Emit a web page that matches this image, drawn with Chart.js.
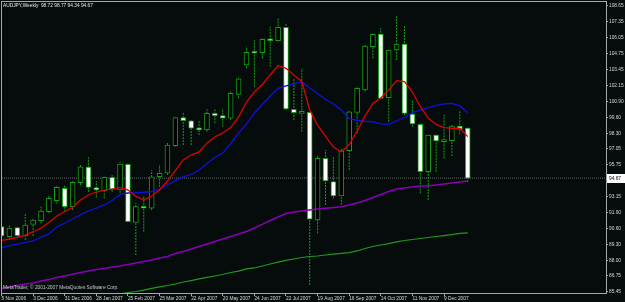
<!DOCTYPE html>
<html>
<head>
<meta charset="utf-8">
<script src="https://cdn.jsdelivr.net/npm/chart.js@4.4.0/dist/chart.umd.min.js"></script>
<style>
  html, body { margin: 0; padding: 0; background: #060c0c; }
  #wrap { width: 625px; height: 302px; }
</style>
</head>
<body>
<div id="wrap"><canvas id="chart" width="625" height="302"></canvas></div>
<script>
// weekly AUDJPY bars, oldest first
const opens = [90.73, 89.92, 90.65, 89.97, 90.92, 91.21, 91.94, 92.83, 93.84, 92.35,
  94.30, 95.57, 93.89, 93.65, 94.73, 93.70, 95.79, 91.08, 92.35, 92.22,
  94.78, 95.06, 97.30, 99.57, 99.32, 98.75, 98.57, 99.92, 99.73, 99.52,
  101.46, 103.84, 104.92, 104.84, 105.93, 105.81, 106.90, 100.25, 99.92, 100.00,
  91.27, 96.27, 94.38, 93.22, 96.89, 99.99, 101.81, 105.32, 106.35, 101.19,
  105.06, 105.54, 99.87, 99.03, 95.19, 98.16, 97.62, 97.70, 98.89, 98.72];
const highs = [90.95, 90.86, 90.73, 91.76, 91.43, 92.35, 93.22, 94.11, 94.11, 94.51,
  95.79, 96.35, 94.43, 94.78, 94.92, 96.00, 95.89, 92.65, 93.16, 95.32,
  95.73, 97.54, 99.65, 99.97, 99.38, 99.38, 100.25, 100.33, 100.33, 101.68,
  102.89, 105.32, 105.87, 106.01, 106.95, 107.63, 107.22, 102.76, 103.57, 100.11,
  96.54, 96.95, 96.40, 97.08, 100.19, 102.02, 105.46, 106.41, 106.82, 105.11,
  107.81, 107.00, 101.00, 99.06, 98.20, 98.20, 99.79, 98.97, 100.11, 98.77];
const lows = [89.81, 89.70, 89.92, 89.65, 89.97, 91.00, 91.84, 92.62, 91.94, 92.08,
  94.11, 93.56, 93.11, 93.03, 93.56, 93.48, 91.08, 88.43, 90.32, 92.08,
  93.97, 94.92, 97.21, 97.35, 97.35, 98.16, 98.43, 99.11, 98.84, 99.38,
  101.14, 103.57, 102.08, 104.38, 103.70, 105.75, 100.19, 99.38, 98.43, 86.00,
  90.19, 92.49, 93.03, 92.49, 95.32, 98.30, 101.68, 104.38, 101.10, 99.24,
  104.25, 99.79, 98.84, 93.43, 92.89, 95.19, 96.27, 96.46, 98.22, 94.34];
const closes = [89.97, 90.62, 90.00, 90.86, 91.27, 92.00, 93.03, 93.92, 92.35, 94.33,
  95.59, 93.92, 93.70, 94.73, 93.78, 95.81, 91.13, 92.35, 92.22, 94.78,
  95.06, 97.35, 99.57, 99.32, 98.71, 98.57, 99.92, 99.73, 99.52, 101.55,
  102.71, 104.87, 104.79, 105.93, 105.81, 106.90, 100.27, 99.97, 100.09, 91.33,
  96.27, 94.43, 93.22, 96.87, 100.05, 101.95, 105.38, 106.33, 101.14, 105.06,
  105.54, 99.92, 99.06, 95.19, 98.16, 97.68, 97.76, 98.89, 98.63, 94.67];

// moving averages
const redMA = [89.61, 89.73, 89.87, 90.05, 90.32, 90.62, 91.07, 91.59, 91.96, 92.28,
  92.89, 93.30, 93.54, 93.70, 93.78, 93.91, 93.70, 93.18, 92.89, 93.22,
  93.70, 94.43, 95.28, 96.14, 96.54, 96.79, 97.52, 98.00, 98.33, 98.77,
  99.62, 100.84, 101.65, 102.26, 103.03, 103.80, 103.57, 103.03, 102.49, 100.19,
  98.97, 98.08, 97.19, 96.79, 97.39, 98.49, 99.70, 100.72, 101.16, 101.81,
  102.57, 102.50, 101.65, 100.46, 99.54, 99.02, 98.77, 98.71, 98.71, 98.03];
const blueMA = [89.00, 89.20, 89.32, 89.45, 89.57, 89.89, 90.14, 90.70, 91.03, 91.35,
  91.68, 92.00, 92.24, 92.49, 92.85, 93.34, 93.46, 93.48, 93.52, 93.58,
  93.78, 94.11, 94.47, 94.76, 94.96, 95.33, 95.85, 96.34, 96.70, 97.47,
  98.33, 99.06, 99.95, 100.64, 101.33, 101.94, 102.14, 102.30, 102.49, 101.98,
  101.53, 101.04, 100.68, 100.19, 99.50, 99.34, 99.28, 99.24, 99.06, 99.02,
  99.30, 99.58, 99.99, 100.19, 100.39, 100.56, 100.68, 100.72, 100.52, 99.97];
const purpleMA = [85.72, 85.84, 85.96, 86.08, 86.16, 86.32, 86.45, 86.61, 86.73, 86.87,
  87.01, 87.13, 87.26, 87.34, 87.46, 87.54, 87.66, 87.78, 87.90, 88.03,
  88.19, 88.31, 88.55, 88.72, 88.92, 89.12, 89.32, 89.53, 89.73, 89.93,
  90.14, 90.34, 90.62, 90.91, 91.23, 91.51, 91.80, 91.92, 92.00, 92.08,
  92.16, 92.22, 92.28, 92.35, 92.49, 92.65, 92.85, 93.10, 93.34, 93.58,
  93.78, 93.86, 93.95, 94.03, 94.05, 94.11, 94.19, 94.27, 94.35, 94.43];
const greenMA = [null, null, null, null, null, null, null, null, null, null,
  null, null, null, null, null, 85.27, 85.39, 85.47, 85.59, 85.73,
  85.84, 85.96, 86.08, 86.24, 86.36, 86.49, 86.61, 86.73, 86.85, 87.01,
  87.13, 87.30, 87.38, 87.54, 87.70, 87.86, 87.99, 88.11, 88.23, 88.31,
  88.35, 88.43, 88.51, 88.57, 88.62, 88.76, 88.96, 89.12, 89.24, 89.36,
  89.49, 89.61, 89.69, 89.77, 89.85, 89.93, 90.01, 90.09, 90.18, 90.22];

// one date label every 4 bars
const xTickLabels = ['5 Nov 2006', '3 Dec 2006', '31 Dec 2006', '28 Jan 2007', '25 Feb 2007',
  '25 Mar 2007', '22 Apr 2007', '20 May 2007', '24 Jun 2007', '22 Jul 2007',
  '19 Aug 2007', '16 Sep 2007', '14 Oct 2007', '11 Nov 2007', '9 Dec 2007'];
const yTickLabels = ['108.65', '107.35', '106.05', '104.75', '103.45', '102.15', '100.90',
  '99.60', '98.30', '97.05', '95.75', '94.45', '93.15', '91.90', '90.60', '89.30',
  '88.00', '86.75', '85.45'];

const symbolTitle = 'AUDJPY,Weekly';
const copyright = 'MetaTrader, \u00a9 2001-2007 MetaQuotes Software Corp.';

const xMin = 0.06, xMax = 76.5;
const yMin = 85.35, yMax = 108.95;
const lastIdx = closes.length - 1;
const lastClose = closes[lastIdx];

const gridGray = '#a8a8a8';
const labelColor = '#d8d8d8';
const candleGreen = '#14a014';
const smallFont = { family: 'Liberation Sans', size: 4.8 };

// build library data from the arrays
const toPoints = arr => arr.map((v, i) => ({ x: i, y: v }));
const wickPoints = [];
lows.forEach((lo, i) => {
  wickPoints.push({ x: i, y: lo }, { x: i, y: highs[i] }, { x: i, y: null });
});
const bodyPoints = opens.map((o, i) => ({ x: i, y: [o, closes[i]] }));
const bodyFill = opens.map((o, i) => closes[i] < o ? '#ffffff' : '#000000');

const mtDecor = {
  id: 'mtDecor',
  beforeDraw(chart) {
    const { ctx, width, height } = chart;
    ctx.save();
    ctx.fillStyle = '#060c0c';
    ctx.fillRect(0, 0, width, height);
    ctx.restore();
  },
  afterDraw(chart) {
    const { ctx, chartArea: a, scales } = chart;
    ctx.save();
    ctx.strokeStyle = gridGray;
    ctx.lineWidth = 1;
    ctx.strokeRect(a.left - 0.5, a.top - 0.5, a.right - a.left + 1, a.bottom - a.top + 1);

    ctx.font = '4.8px "Liberation Sans"';
    ctx.textBaseline = 'middle';
    ctx.textAlign = 'left';
    ctx.fillStyle = '#e8e8e8';
    const bar = [opens[lastIdx], highs[lastIdx], lows[lastIdx], closes[lastIdx]].map(v => v.toFixed(2)).join(' ');
    ctx.fillText(symbolTitle + '  ' + bar, a.left + 1, a.top + 4);
    ctx.fillStyle = '#c8c8c8';
    ctx.fillText(copyright, a.left + 1, a.bottom - 5);

    // current price box on the right scale
    const py = Math.round(scales.y.getPixelForValue(lastClose));
    ctx.fillStyle = '#ffffff';
    ctx.fillRect(a.right + 1, py - 4, 18, 9);
    ctx.fillStyle = '#000000';
    ctx.fillText(lastClose.toFixed(2), a.right + 3, py + 0.5);
    ctx.restore();
  }
};

new Chart(document.getElementById('chart'), {
  data: {
    datasets: [
      {
        type: 'line',
        data: [{ x: xMin, y: lastClose }, { x: xMax, y: lastClose }],
        borderColor: '#6a6a6a',
        borderWidth: 1,
        borderDash: [1, 1],
        pointRadius: 0,
        clip: 0,
        order: 6
      },
      {
        type: 'line',
        data: wickPoints,
        borderColor: candleGreen,
        borderWidth: 1,
        borderDash: [2, 1],
        pointRadius: 0,
        spanGaps: false,
        clip: 0,
        order: 5
      },
      {
        type: 'bar',
        data: bodyPoints,
        backgroundColor: bodyFill,
        borderColor: candleGreen,
        borderWidth: 1,
        borderSkipped: false,
        barThickness: 5,
        minBarLength: 2,
        clip: 0,
        order: 4
      },
      {
        type: 'line',
        data: toPoints(greenMA),
        borderColor: '#1f9a1f',
        borderWidth: 1.2,
        pointRadius: 0,
        clip: 0,
        order: 3
      },
      {
        type: 'line',
        data: toPoints(purpleMA),
        borderColor: '#8a00b8',
        borderWidth: 1.5,
        pointRadius: 0,
        clip: 0,
        order: 2
      },
      {
        type: 'line',
        data: toPoints(blueMA),
        borderColor: '#1010e0',
        borderWidth: 1.3,
        pointRadius: 0,
        clip: 0,
        order: 1
      },
      {
        type: 'line',
        data: toPoints(redMA),
        borderColor: '#e00000',
        borderWidth: 1.3,
        pointRadius: 0,
        clip: 0,
        order: 0
      }
    ]
  },
  options: {
    responsive: false,
    devicePixelRatio: 1,
    animation: false,
    layout: { padding: { left: 2, top: 2, right: 0, bottom: 0 } },
    plugins: { legend: { display: false }, tooltip: { enabled: false } },
    scales: {
      x: {
        type: 'linear',
        offset: false,
        min: xMin,
        max: xMax,
        border: { display: false },
        grid: { offset: false, drawOnChartArea: false, color: gridGray, tickLength: 3 },
        ticks: {
          autoSkip: false,
          maxRotation: 0,
          align: 'start',
          padding: 0,
          color: labelColor,
          font: smallFont,
          callback: v => xTickLabels[Math.round(v / 4)]
        },
        afterBuildTicks: s => { s.ticks = xTickLabels.map((_, k) => ({ value: k * 4 })); },
        afterFit: s => { s.height = 9; s.paddingLeft = 0; s.paddingRight = 0; }
      },
      y: {
        type: 'linear',
        position: 'right',
        min: yMin,
        max: yMax,
        border: { display: false },
        grid: { drawOnChartArea: false, color: gridGray, tickLength: 2 },
        ticks: {
          padding: 1,
          color: labelColor,
          font: smallFont,
          callback: (v, i) => yTickLabels[i]
        },
        afterBuildTicks: s => { s.ticks = yTickLabels.map(t => ({ value: parseFloat(t) })); },
        afterFit: s => { s.width = 19; s.paddingTop = 0; s.paddingBottom = 0; }
      }
    }
  },
  plugins: [mtDecor]
});
</script>
</body>
</html>
